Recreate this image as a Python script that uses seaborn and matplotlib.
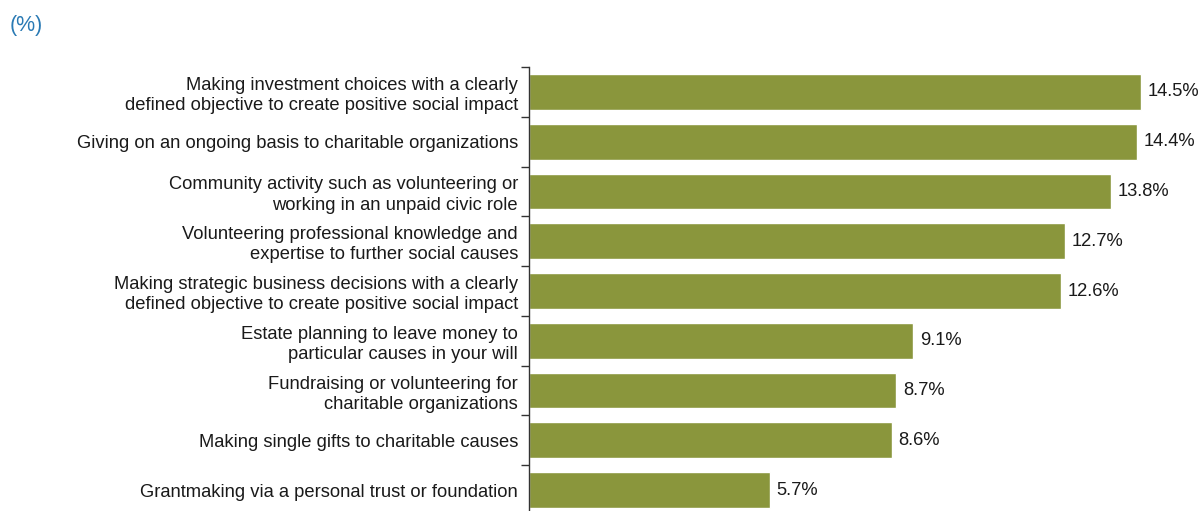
import matplotlib
matplotlib.use("Agg")
import matplotlib.pyplot as plt
import numpy as np
import pandas as pd
import seaborn as sns

activities = [
    "Making investment choices with a clearly\ndefined objective to create positive social impact",
    "Giving on an ongoing basis to charitable organizations",
    "Community activity such as volunteering or\nworking in an unpaid civic role",
    "Volunteering professional knowledge and\nexpertise to further social causes",
    "Making strategic business decisions with a clearly\ndefined objective to create positive social impact",
    "Estate planning to leave money to\nparticular causes in your will",
    "Fundraising or volunteering for\ncharitable organizations",
    "Making single gifts to charitable causes",
    "Grantmaking via a personal trust or foundation",
]
shares = [14.5, 14.4, 13.8, 12.7, 12.6, 9.1, 8.7, 8.6, 5.7]

df = pd.DataFrame({"activity": activities, "share": shares})

sns.set_theme(style="white")
plt.rcParams["font.family"] = ["Liberation Sans", "DejaVu Sans"]

fig = plt.figure(figsize=(12, 5.11), dpi=100)
ax = fig.add_axes([529 / 1200, -4 / 511, (1200 - 529) / 1200, 448 / 511])

bar_color = "#8a963c"
sns.barplot(data=df, x="share", y="activity", orient="h", color=bar_color,
            saturation=1, width=0.72, ax=ax)

ax.set_xlim(0, 671 / 42.2)
ax.set_ylim(len(activities) - 0.5, -0.5)
ax.set_xlabel("")
ax.set_ylabel("")
ax.set_xticks([])

for s in ["top", "right", "bottom"]:
    ax.spines[s].set_visible(False)
ax.spines["left"].set_color("#333333")
ax.spines["left"].set_linewidth(1.0)

# category labels without major tick marks, separator ticks between bars
ax.tick_params(axis="y", which="major", length=0, pad=8, labelsize=13.2, labelcolor="#1a1a1a")
for lbl in ax.get_yticklabels():
    lbl.set_horizontalalignment("right")
    lbl.set_multialignment("right")
    lbl.set_linespacing(1.25)
ax.set_yticks(np.arange(len(activities) + 1) - 0.5, minor=True)
ax.tick_params(axis="y", which="minor", length=6, width=1.0, color="#333333", left=True)

for i, v in enumerate(shares):
    ax.text(v + 0.16, i, f"{v:.1f}%", va="center", ha="left", fontsize=13.2, color="#1a1a1a")

fig.text(10 / 1200, 1 - 26 / 511, "(%)", fontsize=15.5, color="#2a7ab4", va="center", ha="left")

fig.savefig("out.png", dpi=100)
